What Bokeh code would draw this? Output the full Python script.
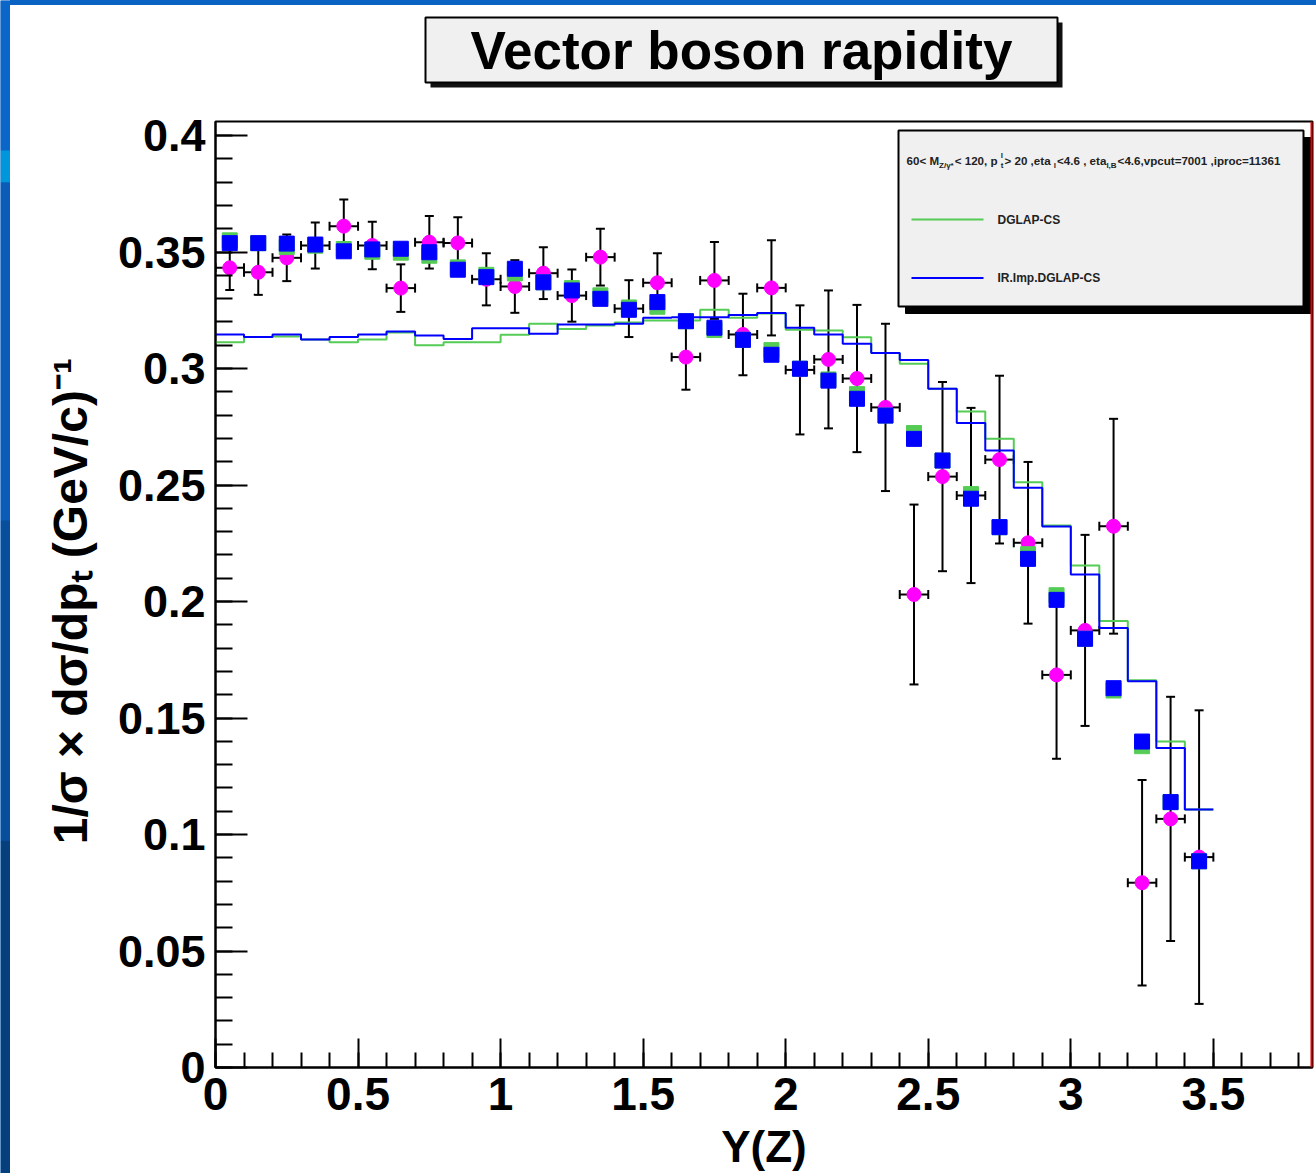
import math
from bokeh.plotting import figure
from bokeh.layouts import row, column
from bokeh.models import FixedTicker, NumeralTickFormatter, Span, Range1d, Div
from bokeh.embed import file_html
from bokeh.resources import INLINE
from bokeh.core.properties import value

# ---------------- data ----------------
bin_centers = [0.05, 0.15, 0.25, 0.35, 0.45, 0.55, 0.65, 0.75, 0.85, 0.95,
               1.05, 1.15, 1.25, 1.35, 1.45, 1.55, 1.65, 1.75, 1.85, 1.95,
               2.05, 2.15, 2.25, 2.35, 2.45, 2.55, 2.65, 2.75, 2.85, 2.95,
               3.05, 3.15, 3.25, 3.35, 3.45]
bin_edges = [0.0, 0.1, 0.2, 0.3, 0.4, 0.5, 0.6, 0.7, 0.8, 0.9,
             1.0, 1.1, 1.2, 1.3, 1.4, 1.5, 1.6, 1.7, 1.8, 1.9,
             2.0, 2.1, 2.2, 2.3, 2.4, 2.5, 2.6, 2.7, 2.8, 2.9,
             3.0, 3.1, 3.2, 3.3, 3.4, 3.5]
bin_half_width = 0.05

# measured points (magenta) with errors
data_y = [0.3432, 0.3413, 0.3475, 0.3528, 0.3611, 0.3528, 0.3345, 0.3542, 0.3539, 0.3383,
          0.3352, 0.3409, 0.3313, 0.3478, 0.3257, 0.3368, 0.3049, 0.3378, 0.3146, 0.3346,
          0.2994, 0.3039, 0.2957, 0.2833, 0.2030, 0.2536, 0.2455, 0.2609, 0.2252, 0.1685,
          0.1876, 0.2323, 0.0793, 0.1067, 0.0903]
data_err = [0.0095, 0.0097, 0.0100, 0.0099, 0.0114, 0.0102, 0.0102, 0.0113, 0.0110, 0.0112,
            0.0113, 0.0111, 0.0112, 0.0122, 0.0122, 0.0127, 0.0140, 0.0165, 0.0175, 0.0204,
            0.0277, 0.0296, 0.0316, 0.0359, 0.0386, 0.0406, 0.0376, 0.0360, 0.0347, 0.0360,
            0.0410, 0.0461, 0.0441, 0.0524, 0.0630]

# DGLAP-CS markers (green squares) and histogram
dglap_pts = [0.3550, 0.3538, 0.3521, 0.3527, 0.3513, 0.3501, 0.3497, 0.3484, 0.3434, 0.3402,
             0.3408, 0.3370, 0.3345, 0.3314, 0.3262, 0.3265, 0.3203, 0.3165, 0.3123, 0.3079,
             0.2999, 0.2953, 0.2890, 0.2798, 0.2723, 0.2605, 0.2461, 0.2319, 0.2203, 0.2027,
             0.1840, 0.1618, 0.1379, 0.1139, 0.0885]
dglap_hist = [0.3113, 0.3135, 0.3137, 0.3124, 0.3113, 0.3124, 0.3155, 0.3100, 0.3113, 0.3113,
              0.3145, 0.3192, 0.3170, 0.3185, 0.3197, 0.3206, 0.3206, 0.3252, 0.3218, 0.3236,
              0.3166, 0.3163, 0.3134, 0.3066, 0.3020, 0.2913, 0.2815, 0.2698, 0.2512, 0.2326,
              0.2154, 0.1916, 0.1662, 0.1399, 0.1107]

# IR.Imp.DGLAP-CS markers (blue squares) and histogram
irimp_pts = [0.3538, 0.3538, 0.3536, 0.3532, 0.3503, 0.3511, 0.3514, 0.3499, 0.3424, 0.3392,
             0.3428, 0.3370, 0.3335, 0.3299, 0.3252, 0.3285, 0.3203, 0.3175, 0.3123, 0.3059,
             0.2999, 0.2948, 0.2870, 0.2798, 0.2698, 0.2605, 0.2441, 0.2319, 0.2183, 0.2007,
             0.1840, 0.1628, 0.1399, 0.1139, 0.0885]
irimp_hist = [0.3146, 0.3135, 0.3146, 0.3124, 0.3135, 0.3146, 0.3159, 0.3142, 0.3127, 0.3173,
              0.3173, 0.3149, 0.3189, 0.3189, 0.3192, 0.3218, 0.3220, 0.3220, 0.3230, 0.3238,
              0.3175, 0.3146, 0.3106, 0.3066, 0.3037, 0.2913, 0.2766, 0.2648, 0.2488, 0.2322,
              0.2116, 0.1886, 0.1658, 0.1371, 0.1107]

x_major_ticks = [0, 0.5, 1, 1.5, 2, 2.5, 3, 3.5]
y_major_ticks = [0, 0.05, 0.1, 0.15, 0.2, 0.25, 0.3, 0.35, 0.4]

title_text = "Vector boson rapidity"
x_title = "Y(Z)"
y_title = "1/σ × dσ/dpₜ  (GeV/c)⁻¹"
legend_labels = ["DGLAP-CS", "IR.Imp.DGLAP-CS"]
header_parts = ["60< M", "Z/γ*", " < 120, p", "l", "t", " > 20 ,eta", "l",
                "<4.6 , eta", "l,B", "<4.6,vpcut=7001 ,iproc=11361"]
header_roles = ["main", "sub", "main", "sup", "sub", "main", "sub", "main", "sub", "main"]

# ---------------- layout constants (pixels) ----------------
PAGE_W, PAGE_H = 1316, 1173
STRIP_W = 10                 # blue slide strip on the left
BAND_H = 5                   # blue slide band on top
HEAD_H = 90                  # area above the plot holding the title box
FRAME_L, FRAME_R = 215, 1312  # page x of frame edges
FRAME_T, FRAME_B = 121, 1067  # page y of frame edges
PX_PER_X = 285.1
PX_PER_Y = 2330.0
FW = FRAME_R - FRAME_L
FH = FRAME_B - FRAME_T
X_END = FW / PX_PER_X
Y_END = FH / PX_PER_Y
BORDER_L = FRAME_L - STRIP_W
BORDER_R = PAGE_W - FRAME_R

def dx(px):  # page pixel -> data x
    return (px - FRAME_L) / PX_PER_X

def dy(py):  # page pixel -> data y
    return (FRAME_B - py) / PX_PER_Y

FONT = "Liberation Sans"
GREEN = "#55cc55"
BLUE = "#0000ff"
MAGENTA = "#ff00ff"
SLIDE_BLUE = "#0a62c2"

def bare(fig):
    fig.axis.visible = False
    fig.grid.visible = False
    fig.outline_line_color = None
    return fig

# ---------------- left slide strip ----------------
strip = bare(figure(width=STRIP_W, height=PAGE_H, x_range=Range1d(0, STRIP_W),
                    y_range=Range1d(PAGE_H, 0), output_backend="svg",
                    toolbar_location=None, title=None, min_border=0))
strip.background_fill_color = SLIDE_BLUE
strip.border_fill_color = SLIDE_BLUE
strip.quad(left=[0, 0, 0, 0, 0], right=[STRIP_W] * 5,
           top=[0, 150, 182, 520, 840], bottom=[150, 182, 520, 840, PAGE_H],
           fill_color=["#0a66c8", "#0096dc", "#0a5cb8", "#074e9c", "#053f7c"],
           line_color=None)

# ---------------- top slide band ----------------
band = Div(text="", width=PAGE_W - STRIP_W, height=BAND_H,
           styles={"background-color": SLIDE_BLUE, "margin": "0", "padding": "0"})

# ---------------- head (title box) ----------------
head = bare(figure(frame_width=FW, frame_height=HEAD_H,
                   x_range=Range1d(FRAME_L, FRAME_R),
                   y_range=Range1d(BAND_H + HEAD_H, BAND_H), output_backend="svg",
                   toolbar_location=None, title=None,
                   min_border_left=BORDER_L, min_border_right=BORDER_R,
                   min_border_top=0, min_border_bottom=0))
head.background_fill_color = "white"
head.border_fill_color = "white"
head.quad(left=[430], right=[1062], top=[22], bottom=[87],
          fill_color="#111111", line_color=None)
head.quad(left=[425], right=[1057], top=[17], bottom=[82],
          fill_color="#f0f0f0", line_color="black", line_width=2)
head.text(x=[741], y=[50], text=[title_text], text_font=value(FONT),
          text_font_style="bold", text_font_size="53px", text_align="center",
          text_baseline="middle", text_color="black")

# ---------------- main plot ----------------
p = figure(frame_width=FW, frame_height=FH, x_range=(0, X_END), y_range=(0, Y_END),
           output_backend="svg", toolbar_location=None, title=None,
           min_border_left=BORDER_L, min_border_right=BORDER_R,
           min_border_top=FRAME_T - BAND_H - HEAD_H, min_border_bottom=PAGE_H - FRAME_B)
p.background_fill_color = "white"
p.border_fill_color = "white"
p.outline_line_color = "black"
p.outline_line_width = 2
p.xgrid.visible = False
p.ygrid.visible = False

p.xaxis.ticker = FixedTicker(ticks=x_major_ticks,
                             minor_ticks=[round(0.1 * i, 2) for i in range(0, 39)])
p.yaxis.ticker = FixedTicker(ticks=y_major_ticks,
                             minor_ticks=[round(0.01 * i, 3) for i in range(0, 41)])
p.xaxis.formatter = NumeralTickFormatter(format="0.[0]")
p.yaxis.formatter = NumeralTickFormatter(format="0.[00]")
for ax in (p.xaxis, p.yaxis):
    ax.axis_line_color = "black"
    ax.axis_line_width = 2
    ax.major_tick_line_color = "black"
    ax.minor_tick_line_color = "black"
    ax.major_tick_line_width = 2
    ax.minor_tick_line_width = 2
    ax.major_tick_out = 0
    ax.minor_tick_out = 0
    ax.major_label_text_font = FONT
    ax.major_label_text_font_style = "bold"
    ax.major_label_text_color = "black"
    ax.axis_label_text_font = FONT
    ax.axis_label_text_font_style = "bold"
    ax.axis_label_text_color = "black"
p.xaxis.major_label_text_font_size = "46px"
p.yaxis.major_label_text_font_size = "45px"
p.xaxis.major_tick_in = 29
p.xaxis.minor_tick_in = 15
p.yaxis.major_tick_in = 32
p.yaxis.minor_tick_in = 17
p.xaxis.major_label_standoff = 10
p.yaxis.major_label_standoff = 10
p.xaxis.axis_label = x_title
p.xaxis.axis_label_text_font_size = "44px"
p.xaxis.axis_label_standoff = 9
p.yaxis.axis_label = y_title
p.yaxis.axis_label_text_font_size = "48px"
p.yaxis.axis_label_standoff = 18

p.add_layout(Span(location=X_END, dimension="height", line_color="#e00000", line_width=4))

# measured data with error bars
lo = [y - e for y, e in zip(data_y, data_err)]
hi = [y + e for y, e in zip(data_y, data_err)]
xl = [x - bin_half_width for x in bin_centers]
xr = [x + bin_half_width for x in bin_centers]
p.segment(x0=bin_centers, y0=lo, x1=bin_centers, y1=hi, line_color="black", line_width=2)
p.segment(x0=xl, y0=data_y, x1=xr, y1=data_y, line_color="black", line_width=2)
p.scatter(x=bin_centers + bin_centers, y=lo + hi, marker="dash", size=9,
          line_color="black", line_width=2)
p.scatter(x=xl + xr, y=data_y + data_y, marker="dash", size=9, angle=math.pi / 2,
          line_color="black", line_width=2)
p.scatter(x=bin_centers, y=data_y, marker="circle", size=14,
          fill_color=MAGENTA, line_color=MAGENTA)

# histograms and their markers
p.step(x=bin_edges, y=dglap_hist + [dglap_hist[-1]], mode="after",
       line_color=GREEN, line_width=2)
p.step(x=bin_edges, y=irimp_hist + [irimp_hist[-1]], mode="after",
       line_color=BLUE, line_width=2)
p.scatter(x=bin_centers, y=dglap_pts, marker="square", size=15,
          fill_color=GREEN, line_color=GREEN)
p.scatter(x=bin_centers, y=irimp_pts, marker="square", size=15,
          fill_color=BLUE, line_color=BLUE)

# legend box
p.quad(left=[dx(905)], right=[dx(1316)], top=[dy(137)], bottom=[dy(313)],
       fill_color="black", line_color="black")
p.quad(left=[dx(898)], right=[dx(1303)], top=[dy(130)], bottom=[dy(306)],
       fill_color="#f0f0f0", line_color="black", line_width=2)
p.line(x=[dx(911), dx(983)], y=[dy(219), dy(219)], line_color=GREEN, line_width=2)
p.line(x=[dx(911), dx(983)], y=[dy(277.5), dy(277.5)], line_color=BLUE, line_width=2)
p.text(x=[dx(997), dx(997)], y=[dy(219), dy(277.5)], text=legend_labels,
       text_font=value(FONT), text_font_style="bold", text_font_size="12px",
       text_baseline="middle", text_align="left", text_color="#222222")

# legend header with sub/superscripts, laid out piece by piece
EM = {"<": .584, ">": .584, "=": .584, " ": .278, ",": .278, ".": .278, "/": .278,
      "M": .833, "Z": .611, "γ": .556, "*": .389, "p": .611, "l": .278, "t": .333,
      "e": .556, "a": .556, "v": .556, "c": .556, "u": .611, "i": .278, "r": .389,
      "o": .611, "B": .722}
def text_w(s, size):
    return sum(EM.get(ch, .556) for ch in s) * size

SIZE_MAIN, SIZE_SUB = 11.6, 8
base_y = 160
hx, hy, hs = [], [], []
cur = 906.0
pending = 0.0
for part, role in zip(header_parts, header_roles):
    size = SIZE_MAIN if role == "main" else SIZE_SUB
    hx.append(cur)
    hs.append(f"{size}px")
    if role == "main":
        hy.append(base_y)
        cur += text_w(part, size)
    elif role == "sup":
        hy.append(base_y - 5)
        pending = text_w(part, size)
    else:
        hy.append(base_y + 5)
        cur += max(pending, text_w(part, size)) + 1
        pending = 0.0
p.text(x=[dx(v) for v in hx], y=[dy(v) for v in hy], text=header_parts,
       text_font=value(FONT), text_font_style="bold", text_font_size=hs,
       text_baseline="middle", text_align="left", text_color="#222222")

layout = row(strip, column(band, head, p, spacing=0), spacing=0)
open("out.html", "w").write(file_html(layout, INLINE))
